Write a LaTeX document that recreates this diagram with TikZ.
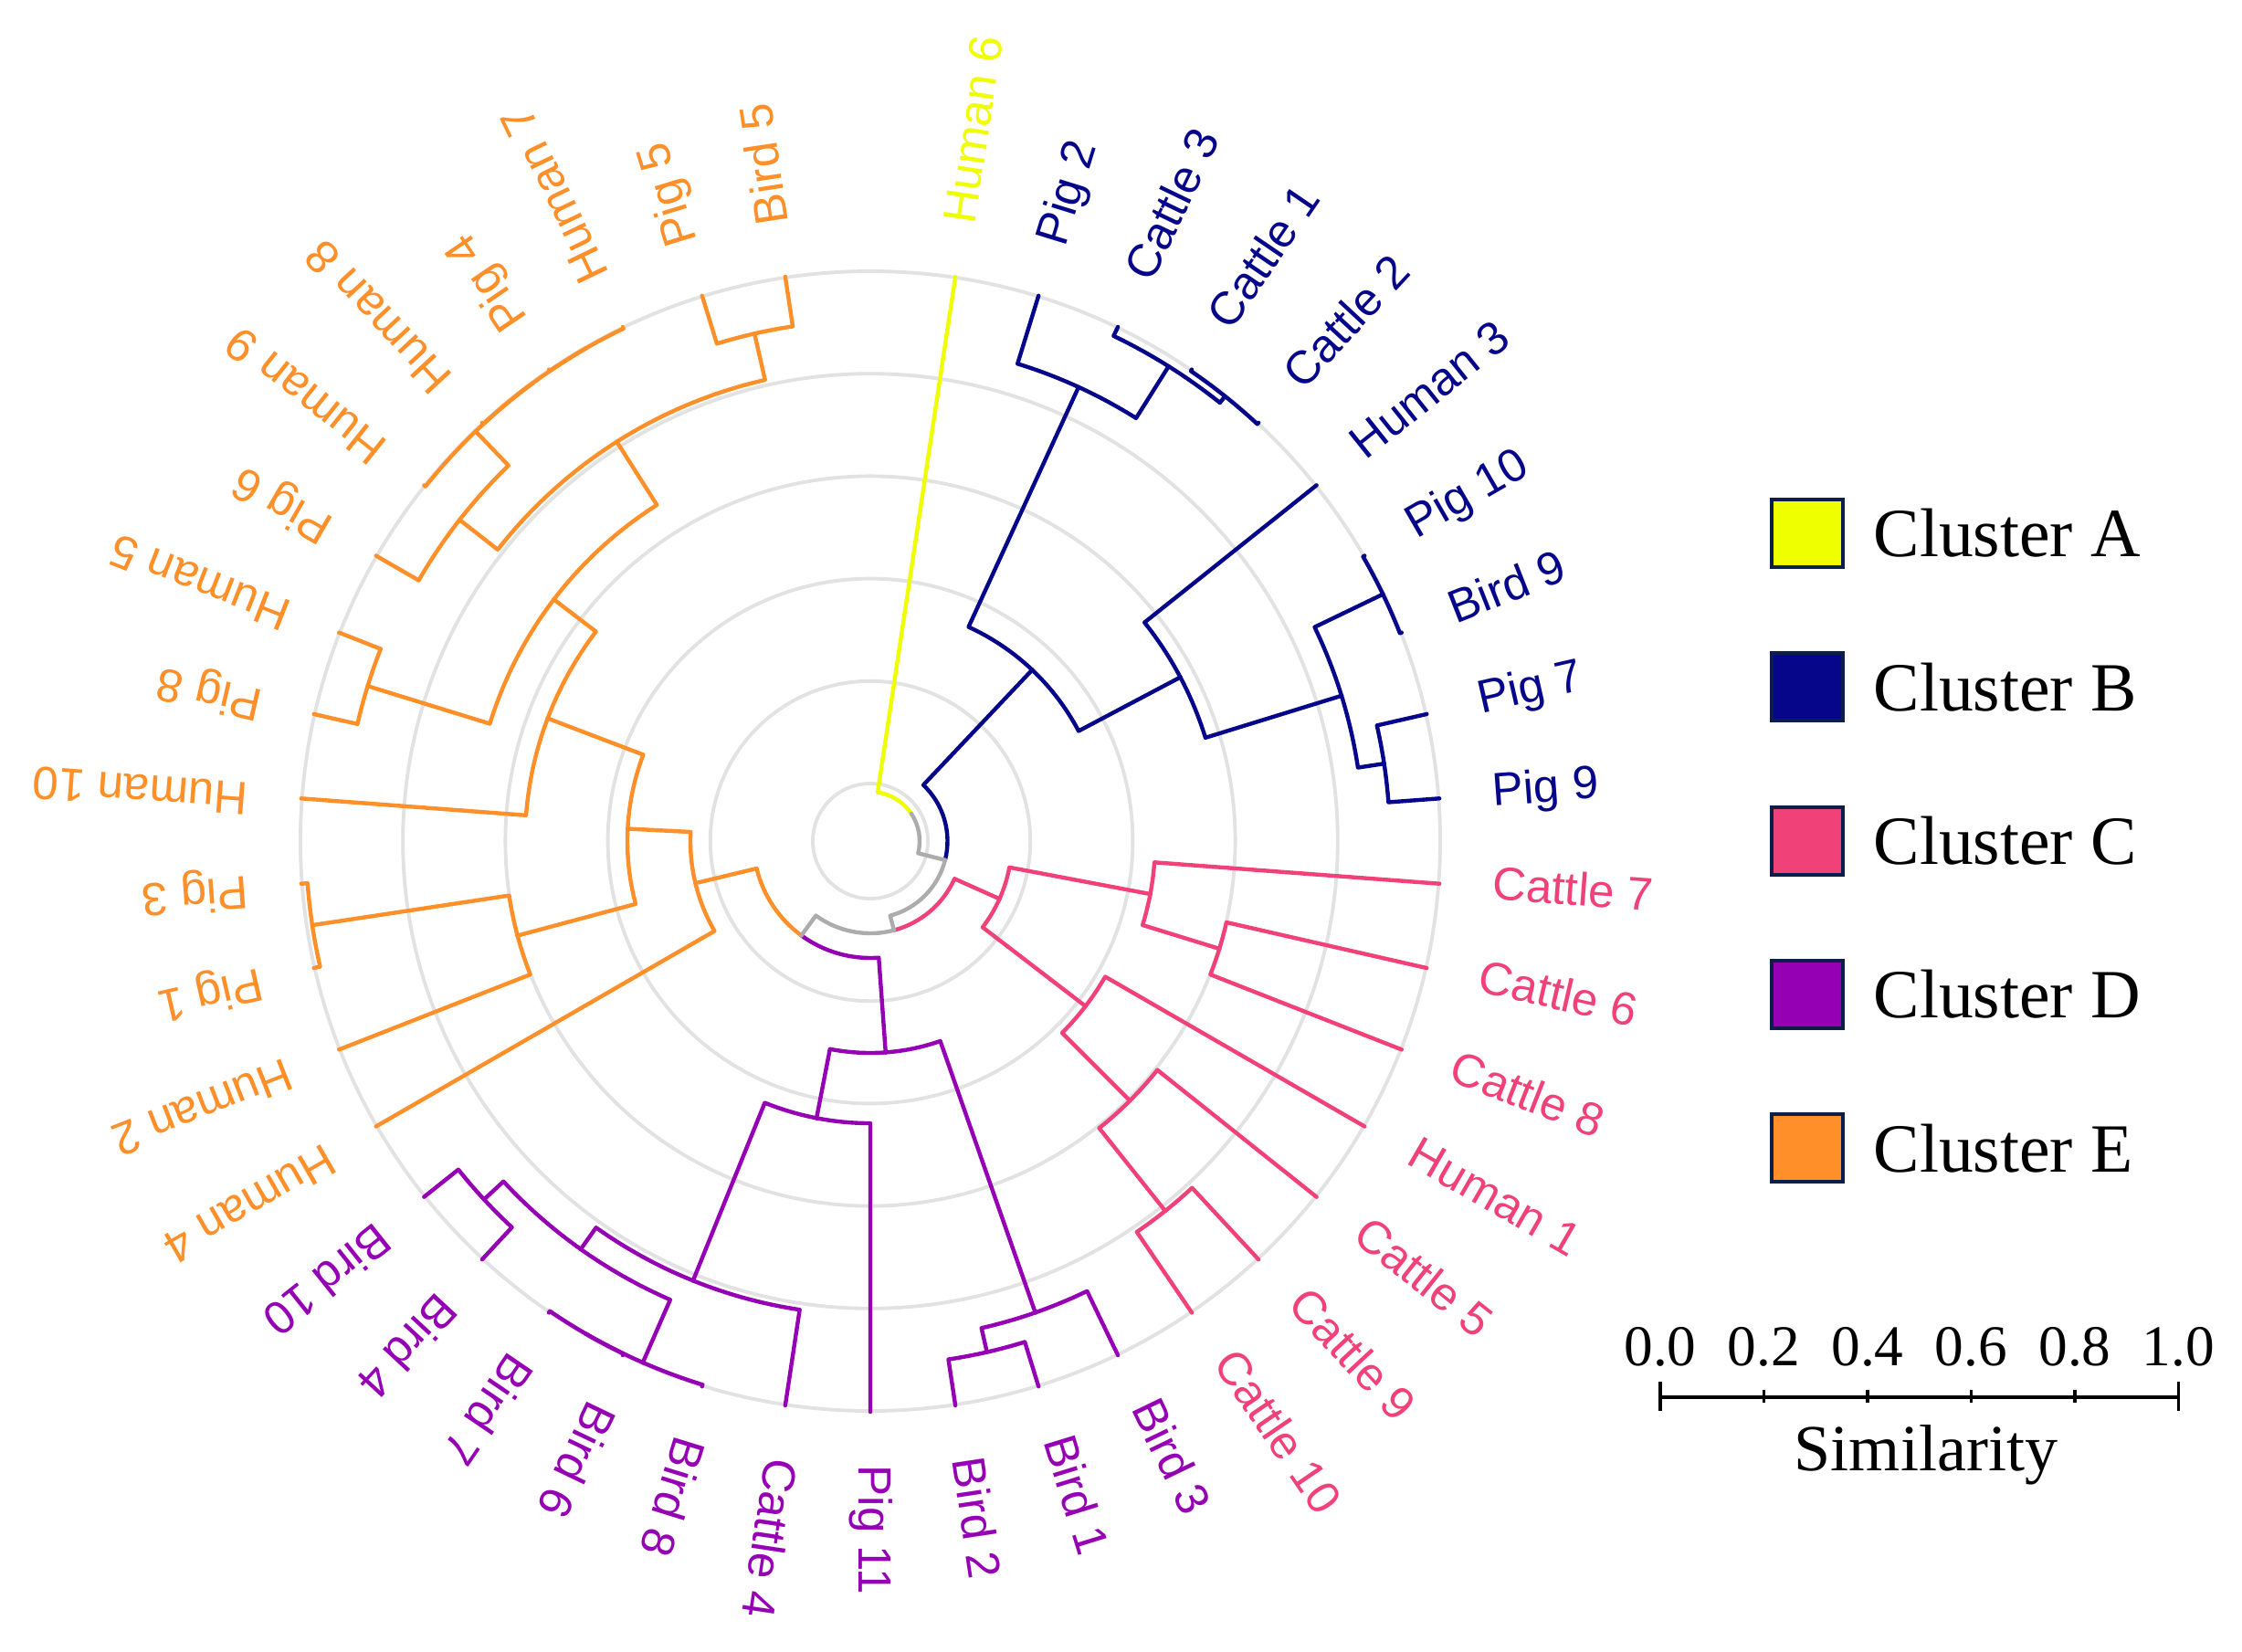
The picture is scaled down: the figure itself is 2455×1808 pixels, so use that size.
\documentclass[tikz,border=0pt]{standalone}
\usepackage{fontspec}
\setmainfont{Liberation Serif}
\newfontfamily\labfont{Liberation Sans}
\usetikzlibrary{positioning}
\definecolor{clusterA}{RGB}{240,255,0}
\definecolor{clusterB}{RGB}{6,6,138}
\definecolor{clusterC}{RGB}{240,66,120}
\definecolor{clusterD}{RGB}{150,0,180}
\definecolor{clusterE}{RGB}{255,143,40}
\definecolor{linkgrey}{RGB}{172,172,172}
\definecolor{gridgrey}{RGB}{226,226,226}
\definecolor{boxedge}{RGB}{12,30,72}
\newcommand{\leafr}{625}
\newcommand{\labr}{683}
\newcommand{\leaf}[4]{%
  \pgfmathsetmacro{\lfAng}{90-#2*60/7}
  \expandafter\xdef\csname ang@#1\endcsname{\lfAng}
  \coordinate (#1) at (\lfAng:\leafr);
  \node[leaflabel, text=#3, rotate=\lfAng] (#1-label) at (\lfAng:\labr) {#4};
}
\newcommand{\dmerge}[6]{%
  \edef\mgA{\csname ang@#3\endcsname}
  \edef\mgB{\csname ang@#5\endcsname}
  \pgfmathsetmacro{\mgM}{(\mgA+\mgB)/2}
  \expandafter\xdef\csname ang@#1\endcsname{\mgM}
  \coordinate (#1) at (\mgM:#2);
  \draw[branch, #4] (#3) -- (\mgA:#2) arc[start angle=\mgA, end angle=\mgM, radius=#2*0.01cm];
  \draw[branch, #6] (#5) -- (\mgB:#2) arc[start angle=\mgB, end angle=\mgM, radius=#2*0.01cm];
}

\begin{document}
\begin{tikzpicture}[x=0.01cm, y=0.01cm,
        branch/.style={line width=1.25pt, line cap=round, line join=round},
        gridring/.style={draw=gridgrey, line width=1.1pt},
        leaflabel/.style={anchor=west, inner sep=0pt, font=\labfont\fontsize{14.5}{17}\selectfont, text height=0.72em, text depth=0pt},
        legbox/.style={draw=boxedge, line width=1.1pt, minimum width=0.78cm, minimum height=0.74cm, inner sep=0pt},
        legtext/.style={anchor=west, inner sep=0pt, font=\fontsize{21.5}{26}\selectfont},
        ticklabel/.style={anchor=base, inner sep=0pt, font=\fontsize{18}{22}\selectfont},
        scalebar/.style={line width=1pt, black}
    ]
    \useasboundingbox (-953,-887) rectangle (1502,921);

    \foreach \r in {63,175.2,287.4,399.6,511.8,624}
        \draw[gridring] (0,0) circle[radius=\r*0.01cm];

    \leaf{Hu6}{1}{clusterA}{Human 6}
    \leaf{Pg2}{2}{clusterB}{Pig 2}
    \leaf{Ct3}{3}{clusterB}{Cattle 3}
    \leaf{Ct1}{4}{clusterB}{Cattle 1}
    \leaf{Ct2}{5}{clusterB}{Cattle 2}
    \leaf{Hu3}{6}{clusterB}{Human 3}
    \leaf{Pg10}{7}{clusterB}{Pig 10}
    \leaf{Bd9}{8}{clusterB}{Bird 9}
    \leaf{Pg7}{9}{clusterB}{Pig 7}
    \leaf{Pg9}{10}{clusterB}{Pig 9}
    \leaf{Ct7}{11}{clusterC}{Cattle 7}
    \leaf{Ct6}{12}{clusterC}{Cattle 6}
    \leaf{Ct8}{13}{clusterC}{Cattle 8}
    \leaf{Hu1}{14}{clusterC}{Human 1}
    \leaf{Ct5}{15}{clusterC}{Cattle 5}
    \leaf{Ct9}{16}{clusterC}{Cattle 9}
    \leaf{Ct10}{17}{clusterC}{Cattle 10}
    \leaf{Bd3}{18}{clusterD}{Bird 3}
    \leaf{Bd1}{19}{clusterD}{Bird 1}
    \leaf{Bd2}{20}{clusterD}{Bird 2}
    \leaf{Pg11}{21}{clusterD}{Pig 11}
    \leaf{Ct4}{22}{clusterD}{Cattle 4}
    \leaf{Bd8}{23}{clusterD}{Bird 8}
    \leaf{Bd6}{24}{clusterD}{Bird 6}
    \leaf{Bd7}{25}{clusterD}{Bird 7}
    \leaf{Bd4}{26}{clusterD}{Bird 4}
    \leaf{Bd10}{27}{clusterD}{Bird 10}
    \leaf{Hu4}{28}{clusterE}{Human 4}
    \leaf{Hu2}{29}{clusterE}{Human 2}
    \leaf{Pg1}{30}{clusterE}{Pig 1}
    \leaf{Pg3}{31}{clusterE}{Pig 3}
    \leaf{Hu10}{32}{clusterE}{Human 10}
    \leaf{Pg8}{33}{clusterE}{Pig 8}
    \leaf{Hu5}{34}{clusterE}{Human 5}
    \leaf{Pg6}{35}{clusterE}{Pig 6}
    \leaf{Hu9}{36}{clusterE}{Human 9}
    \leaf{Hu8}{37}{clusterE}{Human 8}
    \leaf{Pg4}{38}{clusterE}{Pig 4}
    \leaf{Hu7}{39}{clusterE}{Human 7}
    \leaf{Pg5}{40}{clusterE}{Pig 5}
    \leaf{Bd5}{41}{clusterE}{Bird 5}

    \dmerge{b1}{623}{Ct1}{clusterB}{Ct2}{clusterB}
    \dmerge{b2}{614}{Ct3}{clusterB}{b1}{clusterB}
    \dmerge{b3}{547}{Pg2}{clusterB}{b2}{clusterB}
    \dmerge{b4}{623}{Pg10}{clusterB}{Bd9}{clusterB}
    \dmerge{b5}{569}{Pg7}{clusterB}{Pg9}{clusterB}
    \dmerge{b6}{540}{b4}{clusterB}{b5}{clusterB}
    \dmerge{b7}{384}{Hu3}{clusterB}{b6}{clusterB}
    \dmerge{b8}{258}{b3}{clusterB}{b7}{clusterB}

    \dmerge{c1}{400}{Ct6}{clusterC}{Ct8}{clusterC}
    \dmerge{c2}{312}{Ct7}{clusterC}{c1}{clusterC}
    \dmerge{c3}{518}{Ct9}{clusterC}{Ct10}{clusterC}
    \dmerge{c4}{402}{Ct5}{clusterC}{c3}{clusterC}
    \dmerge{c5}{297}{Hu1}{clusterC}{c4}{clusterC}
    \dmerge{c6}{155}{c2}{clusterC}{c5}{clusterC}

    \dmerge{d1}{574}{Bd1}{clusterD}{Bd2}{clusterD}
    \dmerge{d2}{547}{Bd3}{clusterD}{d1}{clusterD}
    \dmerge{d3}{623}{Bd6}{clusterD}{Bd7}{clusterD}
    \dmerge{d4}{623}{Bd8}{clusterD}{d3}{clusterD}
    \dmerge{d5}{577}{Bd4}{clusterD}{Bd10}{clusterD}
    \dmerge{d6}{548}{d4}{clusterD}{d5}{clusterD}
    \dmerge{d7}{519}{Ct4}{clusterD}{d6}{clusterD}
    \dmerge{d8}{309}{Pg11}{clusterD}{d7}{clusterD}
    \dmerge{d9}{232}{d2}{clusterD}{d8}{clusterD}

    \dmerge{e1}{618}{Pg1}{clusterE}{Pg3}{clusterE}
    \dmerge{e2}{400}{Hu2}{clusterE}{e1}{clusterE}
    \dmerge{e3}{576}{Pg8}{clusterE}{Hu5}{clusterE}
    \dmerge{e4}{623}{Pg4}{clusterE}{Hu7}{clusterE}
    \dmerge{e5}{623}{Hu8}{clusterE}{e4}{clusterE}
    \dmerge{e6}{623}{Hu9}{clusterE}{e5}{clusterE}
    \dmerge{e7}{571}{Pg6}{clusterE}{e6}{clusterE}
    \dmerge{e8}{570}{Pg5}{clusterE}{Bd5}{clusterE}
    \dmerge{e9}{518}{e7}{clusterE}{e8}{clusterE}
    \dmerge{e10}{436}{e3}{clusterE}{e9}{clusterE}
    \dmerge{e11}{378}{Hu10}{clusterE}{e10}{clusterE}
    \dmerge{e12}{266}{e2}{clusterE}{e11}{clusterE}
    \dmerge{e13}{197}{Hu4}{clusterE}{e12}{clusterE}

    \dmerge{de}{128}{d9}{clusterD}{e13}{clusterE}
    \dmerge{cde}{101}{c6}{clusterC}{de}{linkgrey}
    \dmerge{bcde}{84.5}{b8}{clusterB}{cde}{linkgrey}
    \dmerge{root}{54}{Hu6}{clusterA}{bcde}{linkgrey}

    \foreach \cl/\nm [count=\i from 0] in {clusterA/A, clusterB/B, clusterC/C, clusterD/D, clusterE/E} {
        \node[legbox, fill=\cl] (key\nm) at (1026,337-\i*168.3) {};
        \node[legtext, right=0.31cm of key\nm] (key\nm-text) {Cluster \nm};
    }

    \coordinate (bar0) at (865,-609);
    \coordinate (bar1) at (1432.5,-609);
    \draw[scalebar] (bar0) -- (bar1);
    \foreach \v [count=\i from 0] in {0.0,0.2,0.4,0.6,0.8,1.0} {
        \node[ticklabel] (tick\i) at (865+\i*113.5,-574) {\v};
    }
    \foreach \i in {1,...,4}
        \draw[scalebar] (865+\i*113.5,-601) -- (865+\i*113.5,-615);
    \draw[scalebar] (865,-592) -- (865,-624);
    \draw[scalebar] (1432.5,-592) -- (1432.5,-624);
    \node[anchor=base, inner sep=0pt, font=\fontsize{20.5}{24}\selectfont] (simlabel) at (1156,-689) {Similarity};
\end{tikzpicture}
\end{document}
